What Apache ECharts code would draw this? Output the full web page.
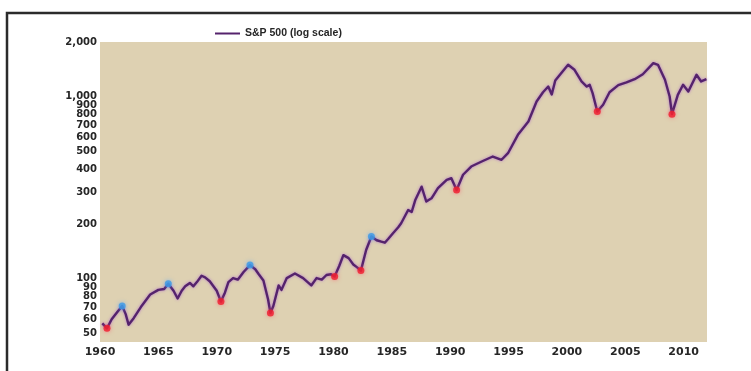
<!DOCTYPE html>
<html>
<head>
<meta charset="utf-8">
<script src="https://cdn.jsdelivr.net/npm/echarts@6/dist/echarts.min.js"></script>
<style>
  html, body { margin: 0; padding: 0; background: #ffffff; }
  #chart { width: 751px; height: 371px; }
</style>
</head>
<body>
<div id="chart"></div>
<script>
// S&P 500 index level (log scale), 1960-2012
const years = [
  1960.2, 1960.6, 1961.0, 1961.5, 1961.9, 1962.2, 1962.45, 1962.9, 1963.5, 1964.3,
  1965.0, 1965.5, 1965.85, 1966.3, 1966.65, 1967.0, 1967.3, 1967.7, 1968.0, 1968.3,
  1968.7, 1969.0, 1969.4, 1970.0, 1970.36, 1970.7, 1971.0, 1971.4, 1971.8, 1972.3,
  1972.85, 1973.3, 1973.6, 1974.0, 1974.4, 1974.6, 1974.85, 1975.3, 1975.55, 1976.0,
  1976.7, 1977.4, 1978.1, 1978.55, 1979.0, 1979.4, 1979.8, 1980.1, 1980.5, 1980.85,
  1981.3, 1981.7, 1982.0, 1982.35, 1982.8, 1983.25, 1983.7, 1984.1, 1984.4, 1984.7,
  1985.1, 1985.55, 1985.8, 1986.4, 1986.7, 1987.0, 1987.55, 1987.95, 1988.4, 1988.95,
  1989.7, 1990.1, 1990.55, 1991.1, 1991.8, 1992.7, 1993.65, 1994.4, 1994.95, 1995.8,
  1996.7, 1997.4, 1997.95, 1998.4, 1998.7, 1999.0, 1999.4, 2000.1, 2000.65, 2001.25,
  2001.7, 2001.95, 2002.2, 2002.6, 2003.1, 2003.65, 2004.4, 2005.1, 2005.8, 2006.5,
  2007.4, 2007.8, 2008.4, 2008.8, 2009.0, 2009.5, 2009.95, 2010.4, 2011.1, 2011.5,
  2011.95
];
const values = [
  57, 53.5, 60, 66, 71, 64, 56, 61, 70, 82,
  87, 88, 94, 86, 78, 86, 91, 95, 91, 96,
  104, 102, 97, 86, 75, 84, 96, 101, 99, 109,
  119, 113, 106, 98, 77, 65, 71, 92, 87, 101,
  107, 101, 92, 101, 99, 105, 106, 103, 118, 135,
  130, 120, 116, 111, 144, 171, 163, 160, 158, 166,
  178, 192, 202, 239, 233, 270, 321, 266, 277, 315,
  350, 357, 308, 373, 414, 441, 470, 451, 490, 618,
  732, 943, 1060, 1139, 1030, 1230, 1321, 1499, 1407, 1214,
  1139, 1164, 1048, 830, 904, 1060, 1160, 1200, 1250, 1330,
  1531, 1499, 1240, 1004, 803, 1025, 1164, 1069, 1321, 1214,
  1250
];

// Market troughs (red) and peaks (blue)
const troughYears = [1960.6, 1970.36, 1974.6, 1980.1, 1982.35, 1990.55, 2002.6, 2009.0];
const peakYears = [1961.9, 1965.85, 1972.85, 1983.25];

// Axis tick labels
const yTicks = [50, 60, 70, 80, 90, 100, 200, 300, 400, 500, 600, 700, 800, 900, 1000, 2000];
const seriesName = 'S&P 500 (log scale)';

const linePoints = years.map((y, i) => [y, values[i]]);
const pick = (list) => list.map(y => [y, values[years.indexOf(y)]]);

const labelFont = {
  fontFamily: 'DejaVu Sans',
  fontWeight: 'bold',
  fontSize: 10,
  color: '#262626'
};

const chart = echarts.init(document.getElementById('chart'), null, { renderer: 'canvas' });
chart.setOption({
  backgroundColor: '#ffffff',
  animation: false,
  graphic: [{
    type: 'rect',
    shape: { x: 7, y: 13, width: 770, height: 400 },
    style: { fill: 'none', stroke: '#2b2b2b', lineWidth: 2.5 },
    silent: true
  }],
  legend: {
    data: [seriesName],
    left: 215,
    top: 28,
    padding: 0,
    itemWidth: 25,
    itemHeight: 10,
    icon: 'path://M0,4 L25,4 L25,6 L0,6 Z',
    textStyle: {
      fontFamily: 'Liberation Sans',
      fontWeight: 'bold',
      fontSize: 10.5,
      color: '#262626'
    }
  },
  grid: {
    left: 100,
    right: 44,
    top: 42,
    bottom: 29,
    show: true,
    backgroundColor: '#ded1b2',
    borderWidth: 0,
    containLabel: false
  },
  xAxis: {
    type: 'value',
    min: 1960,
    max: 2012,
    interval: 5,
    axisLine: { show: false },
    axisTick: { show: false },
    splitLine: { show: false },
    axisLabel: Object.assign({
      margin: 5,
      showMaxLabel: false,
      formatter: v => String(v)
    }, labelFont, { fontSize: 11 })
  },
  yAxis: {
    type: 'log',
    logBase: 10,
    min: 45,
    max: 2000,
    axisLine: { show: false },
    axisTick: { show: false },
    splitLine: { show: false },
    axisLabel: Object.assign({
      margin: 3,
      customValues: yTicks,
      formatter: v => Math.round(v).toLocaleString('en-US')
    }, labelFont)
  },
  series: [
    {
      name: seriesName,
      type: 'line',
      data: linePoints,
      showSymbol: false,
      smooth: false,
      lineStyle: {
        color: '#55236c',
        width: 2.4,
        join: 'round',
        shadowColor: 'rgba(160, 80, 210, 0.7)',
        shadowBlur: 3
      },
      itemStyle: { color: '#55236c' },
      z: 2
    },
    {
      name: 'troughs',
      type: 'scatter',
      data: pick(troughYears),
      symbolSize: 7,
      itemStyle: {
        color: '#f01c2c',
        shadowColor: 'rgba(255, 90, 110, 0.8)',
        shadowBlur: 4
      },
      z: 3
    },
    {
      name: 'peaks',
      type: 'scatter',
      data: pick(peakYears),
      symbolSize: 7,
      itemStyle: {
        color: '#3b9ae6',
        shadowColor: 'rgba(90, 170, 255, 0.8)',
        shadowBlur: 4
      },
      z: 3
    }
  ]
});
</script>
</body>
</html>
